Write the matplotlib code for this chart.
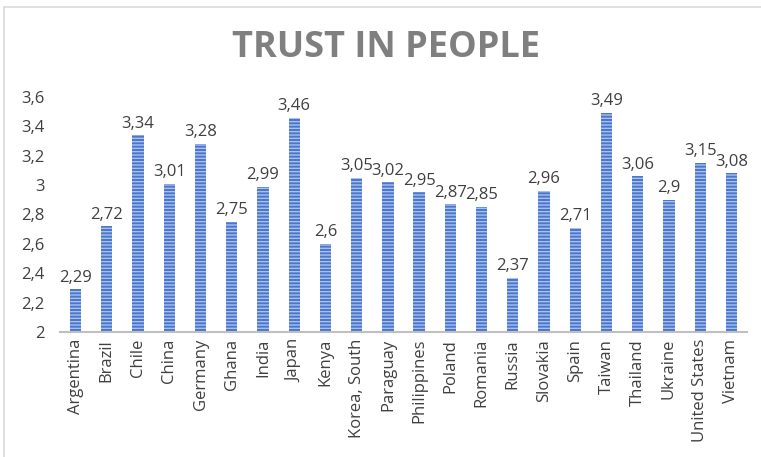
import matplotlib
matplotlib.use('Agg')
import matplotlib.pyplot as plt
from matplotlib.patches import Rectangle

countries = ['Argentina', 'Brazil', 'Chile', 'China', 'Germany', 'Ghana', 'India',
             'Japan', 'Kenya', 'Korea, South', 'Paraguay', 'Philippines', 'Poland',
             'Romania', 'Russia', 'Slovakia', 'Spain', 'Taiwan', 'Thailand',
             'Ukraine', 'United States', 'Vietnam']
trust = [2.29, 2.72, 3.34, 3.01, 3.28, 2.75, 2.99, 3.46, 2.6, 3.05, 3.02, 2.95,
         2.87, 2.85, 2.37, 2.96, 2.71, 3.49, 3.06, 2.9, 3.15, 3.08]
yticks = [2, 2.2, 2.4, 2.6, 2.8, 3, 3.2, 3.4, 3.6]

def comma(v):
    s = ('%.2f' % v).rstrip('0').rstrip('.')
    return s.replace('.', ',')

plt.rcParams['font.family'] = ['Open Sans', 'DejaVu Sans']
plt.rcParams['hatch.linewidth'] = 1.0

fig = plt.figure(figsize=(7.61, 4.57), dpi=100)
# chart frame
fig.patches.append(Rectangle((4/761, -0.1), 1.2, 1 - 7/457 + 0.1,
                             transform=fig.transFigure, fill=False,
                             edgecolor='#d9d9d9', linewidth=1.2))

ax = fig.add_axes([60/761, 1 - 332/457, 687/761, 235/457])
x = range(len(countries))
ax.bar(x, [t - 2 for t in trust], bottom=2, width=0.36, color='#4a76cc',
       edgecolor='#a9c0ee', hatch='-----', linewidth=0)

for i, t in enumerate(trust):
    ax.text(i, t + 0.025, comma(t), ha='center', va='bottom',
            fontsize=12, color='#404040')

ax.set_xlim(-0.5, len(countries) - 0.5)
ax.set_ylim(2, 3.6)
ax.set_yticks(yticks)
ax.set_yticklabels([comma(v) for v in yticks], fontsize=12, color='#404040')
ax.set_xticks(list(x))
ax.set_xticklabels(countries, rotation=90, fontsize=12, color='#404040')
ax.tick_params(length=0, pad=5)
ax.tick_params(axis='y', pad=11)
for s in ['top', 'right', 'left']:
    ax.spines[s].set_visible(False)
ax.spines['bottom'].set_color('#bfbfbf')
ax.spines['bottom'].set_linewidth(1.5)

fig.text(386/761, 1 - 48/457, 'TRUST IN PEOPLE', ha='center', va='center',
         fontsize=26, fontweight='bold', color='#7f7f7f')

fig.savefig('out.png', dpi=100)
